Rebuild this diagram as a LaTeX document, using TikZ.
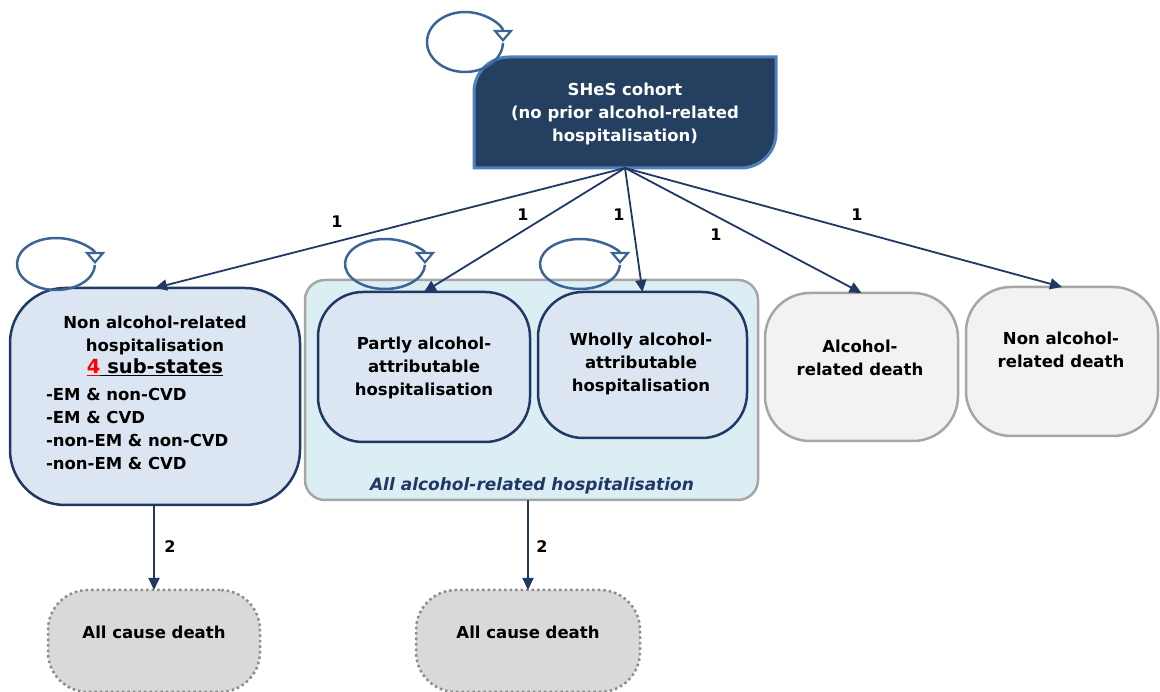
\documentclass[tikz,border=0pt]{standalone}
\usepackage{fontspec}
\setmainfont{DejaVu Sans}
\usetikzlibrary{arrows.meta,calc}
\definecolor{navy}{HTML}{1F3864}
\definecolor{shesfill}{HTML}{243F60}
\definecolor{shesborder}{HTML}{4F81BD}
\definecolor{loopcol}{HTML}{3C6496}
\definecolor{lightblue}{HTML}{DCE6F2}
\definecolor{groupfill}{HTML}{DBEEF4}
\definecolor{greyborder}{HTML}{A6A6A6}
\definecolor{deathfill}{HTML}{F2F2F2}
\definecolor{acdfill}{HTML}{D9D9D9}
\definecolor{acdborder}{HTML}{8C8C8C}
\definecolor{redfour}{HTML}{FF0000}
\tikzset{
  txt/.style={font=\fontsize{16.5}{23}\selectfont\bfseries, align=center, inner sep=0pt, outer sep=0pt, text=black},
  hospbox/.style={draw=navy, line width=2.5pt, fill=lightblue, inner sep=0pt, outer sep=0pt},
  deathbox/.style={draw=greyborder, line width=2.5pt, fill=deathfill, rounded corners=45pt, inner sep=0pt, outer sep=0pt},
  acdbox/.style={draw=acdborder, line width=2.5pt, dash pattern=on 2.5pt off 3pt, fill=acdfill, rounded corners=40pt, inner sep=0pt, outer sep=0pt},
  groupbox/.style={draw=greyborder, line width=2.5pt, fill=groupfill, rounded corners=20pt, inner sep=0pt, outer sep=0pt},
  trans/.style={draw=navy, line width=1.8pt, -{Triangle[length=12pt,width=11pt]}},
  numlab/.style={font=\fontsize{16}{18}\selectfont\bfseries, inner sep=0pt, text=black},
  selfloop/.style={draw=loopcol, line width=2.5pt, -{Triangle[open,length=12pt,width=20pt,line width=2.2pt]}},
}
\begin{document}
\begin{tikzpicture}[x=1pt,y=1pt]
\useasboundingbox (0,0) rectangle (1160,692);
\clip (0,0) rectangle (1160,692);

% SHeS cohort
\node[txt, minimum width=302pt, minimum height=111pt] (shesbox) at (625,579.5) {};
\fill[shesfill, draw=shesborder, line width=3pt]
  (shesbox.south west) -- ++(0,76) arc[start angle=180, end angle=90, radius=35]
  -- (shesbox.north east) -- ++(0,-76) arc[start angle=0, end angle=-90, radius=35] -- cycle;
\node[txt, text=white] (shes) at (625,578) {SHeS cohort\\(no prior alcohol-related\\hospitalisation)};

% group box
\node[groupbox, minimum width=453pt, minimum height=220pt] (group) at (531.5,302) {};
\node[txt, font=\fontsize{17}{20}\selectfont\bfseries\itshape, text=navy] (grouplab) at (532,206) {All alcohol-related hospitalisation};

% hospitalisation states
\node[hospbox, rounded corners=55pt, minimum width=290pt, minimum height=217pt] (nah) at (155,295.5) {};
\node[txt] (nahtitle) at (155,346) {Non alcohol-related\\hospitalisation\\[-1pt]{\fontsize{19.5}{23}\selectfont\textcolor{redfour}{\underline{4}}\underline{\ sub-states}}};
\node[txt, align=left, anchor=north west] (nahlist) at (46,304) {-EM \& non-CVD\\-EM \& CVD\\-non-EM \& non-CVD\\-non-EM \& CVD};

\node[hospbox, rounded corners=45pt, minimum width=212pt, minimum height=150pt] (partly) at (424,325) {};
\node[txt] (partlytxt) at (424,324) {Partly alcohol-\\attributable\\hospitalisation};
\node[hospbox, rounded corners=45pt, minimum width=209pt, minimum height=146pt] (wholly) at (642.5,327) {};
\node[txt] (whollytxt) at (641,328) {Wholly alcohol-\\attributable\\hospitalisation};

% deaths
\node[deathbox, minimum width=193pt, minimum height=148pt] (ard) at (861.5,325) {};
\node[txt] (ardtxt) at (860,334) {Alcohol-\\related death};
\node[deathbox, minimum width=192pt, minimum height=149pt] (nard) at (1062,330.5) {};
\node[txt] (nardtxt) at (1061,342) {Non alcohol-\\related death};

\node[acdbox, minimum width=212pt, minimum height=102pt] (acda) at (154,51) {};
\node[txt] (acdatxt) at (154,60) {All cause death};
\node[acdbox, minimum width=224pt, minimum height=102pt] (acdb) at (528,51) {};
\node[txt] (acdbtxt) at (528,60) {All cause death};

% transitions
\draw[trans] (shesbox.south) -- (nah.north);
\draw[trans] (shesbox.south) -- (partly.north);
\draw[trans] (shesbox.south) -- (wholly.north);
\draw[trans] (shesbox.south) -- (ard.north);
\draw[trans] (shesbox.south) -- (nard.north);
\node[numlab] (l1) at (337,470) {1};
\node[numlab] (l2) at (523,477) {1};
\node[numlab] (l3) at (619,477) {1};
\node[numlab] (l4) at (716,457) {1};
\node[numlab] (l5) at (857,477) {1};

\draw[trans] (acda.north |- nah.south) -- (acda.north);
\draw[trans] (acdb.north |- group.south) -- (acdb.north);
\node[numlab] (l6) at (170,145) {2};
\node[numlab] (l7) at (542,145) {2};

% self loops
\draw[selfloop] (465,650) ++(358:38 and 30) arc[start angle=358, end angle=0, x radius=38, y radius=30];
\draw[selfloop] (56,428) ++(358:39 and 26) arc[start angle=358, end angle=0, x radius=39, y radius=26];
\draw[selfloop] (385,428) ++(358:40 and 25) arc[start angle=358, end angle=0, x radius=40, y radius=25];
\draw[selfloop] (580,428) ++(358:40 and 25) arc[start angle=358, end angle=0, x radius=40, y radius=25];
\end{tikzpicture}
\end{document}
